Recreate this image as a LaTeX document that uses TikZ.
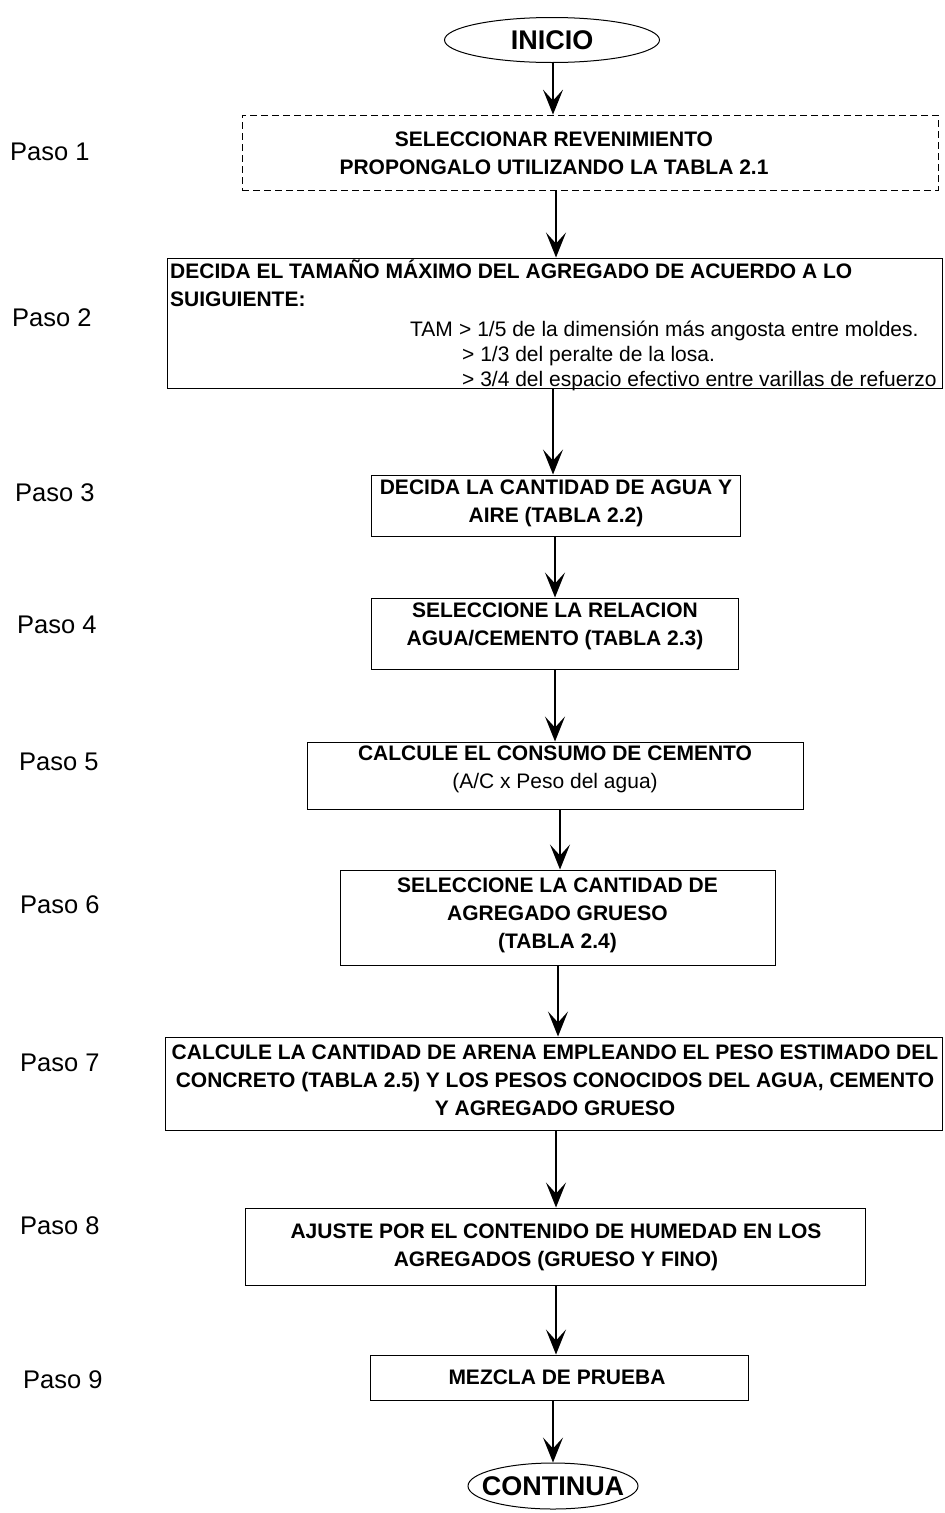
\documentclass[tikz,border=0pt]{standalone}
\usepackage{fontspec}
\setmainfont{Liberation Sans}
\usetikzlibrary{arrows.meta,shapes.geometric}
\begin{document}
\begin{tikzpicture}[x=1pt,y=-1pt,
  stepbox/.style={draw, line width=1pt, inner sep=0pt},
  steptext/.style={font=\bfseries\fontsize{21}{28}\selectfont, align=center, inner sep=0pt},
  plaintext/.style={font=\fontsize{21}{28}\selectfont, inner sep=0pt},
  terminal/.style={draw, ellipse, line width=1pt, inner sep=0pt},
  termtext/.style={inner sep=0pt, font=\bfseries\fontsize{27}{30}\selectfont},
  pasolabel/.style={anchor=west, inner sep=0pt, font=\fontsize{25.5}{30}\selectfont},
  flow/.style={-{Stealth[length=25pt,width=20pt,inset=11pt]}, line width=1.6pt}]

\fill[white] (0,0) rectangle (945,1513);
\useasboundingbox (0,0) rectangle (945,1513);

% start and end terminals
\node[terminal, minimum width=215, minimum height=45] (ini) at (552,40) {};
\node[termtext] (init) at (ini) {INICIO};
\node[terminal, minimum width=170, minimum height=46] (fin) at (553,1486) {};
\node[termtext] (fint) at (fin) {CONTINUA};

% step labels
\node[pasolabel] (p1) at (10,152) {Paso 1};
\node[pasolabel] (p2) at (12,318) {Paso 2};
\node[pasolabel] (p3) at (15,493) {Paso 3};
\node[pasolabel] (p4) at (17,625) {Paso 4};
\node[pasolabel] (p5) at (19,762) {Paso 5};
\node[pasolabel] (p6) at (20,905) {Paso 6};
\node[pasolabel] (p7) at (20,1063) {Paso 7};
\node[pasolabel] (p8) at (20,1226) {Paso 8};
\node[pasolabel] (p9) at (23,1380) {Paso 9};

% step 1
\node[stepbox, dash pattern=on 7pt off 4pt, line width=0.8pt, minimum width=696, minimum height=75] (b1) at (590,152.5) {};
\node[steptext] (t1) at (554,153.5) {SELECCIONAR REVENIMIENTO\\PROPONGALO UTILIZANDO LA TABLA 2.1};

% step 2
\node[stepbox, minimum width=775, minimum height=130] (b2) at (554.5,323) {};
\node[steptext, anchor=base west] (t2a) at (170,278) {DECIDA EL TAMAÑO MÁXIMO DEL AGREGADO DE ACUERDO A LO};
\node[steptext, anchor=base west] (t2b) at (170,306) {SUIGUIENTE:};
\node[plaintext, anchor=base west] (t2c) at (410,336) {TAM};
\node[plaintext, anchor=base west] (t2d) at (459,336) {> 1/5 de la dimensión más angosta entre moldes.};
\node[plaintext, anchor=base west] (t2e) at (462,361) {> 1/3 del peralte de la losa.};
\node[plaintext, anchor=base west] (t2f) at (462,386) {> 3/4 del espacio efectivo entre varillas de refuerzo};

% step 3
\node[stepbox, minimum width=369, minimum height=61] (b3) at (555.5,505.5) {};
\node[steptext] (t3) at (556,503) {DECIDA LA CANTIDAD DE AGUA Y\\AIRE (TABLA 2.2)};

% step 4
\node[stepbox, minimum width=367, minimum height=71] (b4) at (554.5,633.5) {};
\node[steptext] (t4) at (555,626) {SELECCIONE LA RELACION\\AGUA/CEMENTO (TABLA 2.3)};

% step 5
\node[stepbox, minimum width=496, minimum height=67] (b5) at (555,775.5) {};
\node[steptext] (t5) at (555,769.5) {CALCULE EL CONSUMO DE CEMENTO\\{\mdseries (A/C x Peso del agua)}};

% step 6
\node[stepbox, minimum width=435, minimum height=95] (b6) at (557.5,917.5) {};
\node[steptext] (t6) at (557.5,915.5) {SELECCIONE LA CANTIDAD DE\\AGREGADO GRUESO\\(TABLA 2.4)};

% step 7
\node[stepbox, minimum width=777, minimum height=93] (b7) at (553.5,1083.5) {};
\node[steptext] (t7) at (555,1080) {CALCULE LA CANTIDAD DE ARENA EMPLEANDO EL PESO ESTIMADO DEL\\CONCRETO (TABLA 2.5) Y LOS PESOS CONOCIDOS DEL AGUA, CEMENTO\\Y AGREGADO GRUESO};

% step 8
\node[stepbox, minimum width=620, minimum height=77] (b8) at (555,1246.5) {};
\node[steptext] (t8) at (556,1247.5) {AJUSTE POR EL CONTENIDO DE HUMEDAD EN LOS\\AGREGADOS (GRUESO Y FINO)};

% step 9
\node[stepbox, minimum width=378, minimum height=45] (b9) at (559,1377.5) {};
\node[steptext] (t9) at (557,1377) {MEZCLA DE PRUEBA};

% columns of the connecting arrows
\coordinate (x01) at (553,0);
\coordinate (x12) at (556,0);
\coordinate (x23) at (553,0);
\coordinate (x34) at (555,0);
\coordinate (x45) at (555,0);
\coordinate (x56) at (560,0);
\coordinate (x67) at (558,0);
\coordinate (x78) at (556,0);
\coordinate (x89) at (556,0);
\coordinate (x9f) at (553,0);

\draw[flow] (ini.south -| x01) -- (b1.north -| x01);
\draw[flow] (b1.south -| x12) -- (b2.north -| x12);
\draw[flow] (b2.south -| x23) -- (b3.north -| x23);
\draw[flow] (b3.south -| x34) -- (b4.north -| x34);
\draw[flow] (b4.south -| x45) -- (b5.north -| x45);
\draw[flow] (b5.south -| x56) -- (b6.north -| x56);
\draw[flow] (b6.south -| x67) -- (b7.north -| x67);
\draw[flow] (b7.south -| x78) -- (b8.north -| x78);
\draw[flow] (b8.south -| x89) -- (b9.north -| x89);
\draw[flow] (b9.south -| x9f) -- (fin.north -| x9f);
\end{tikzpicture}
\end{document}
